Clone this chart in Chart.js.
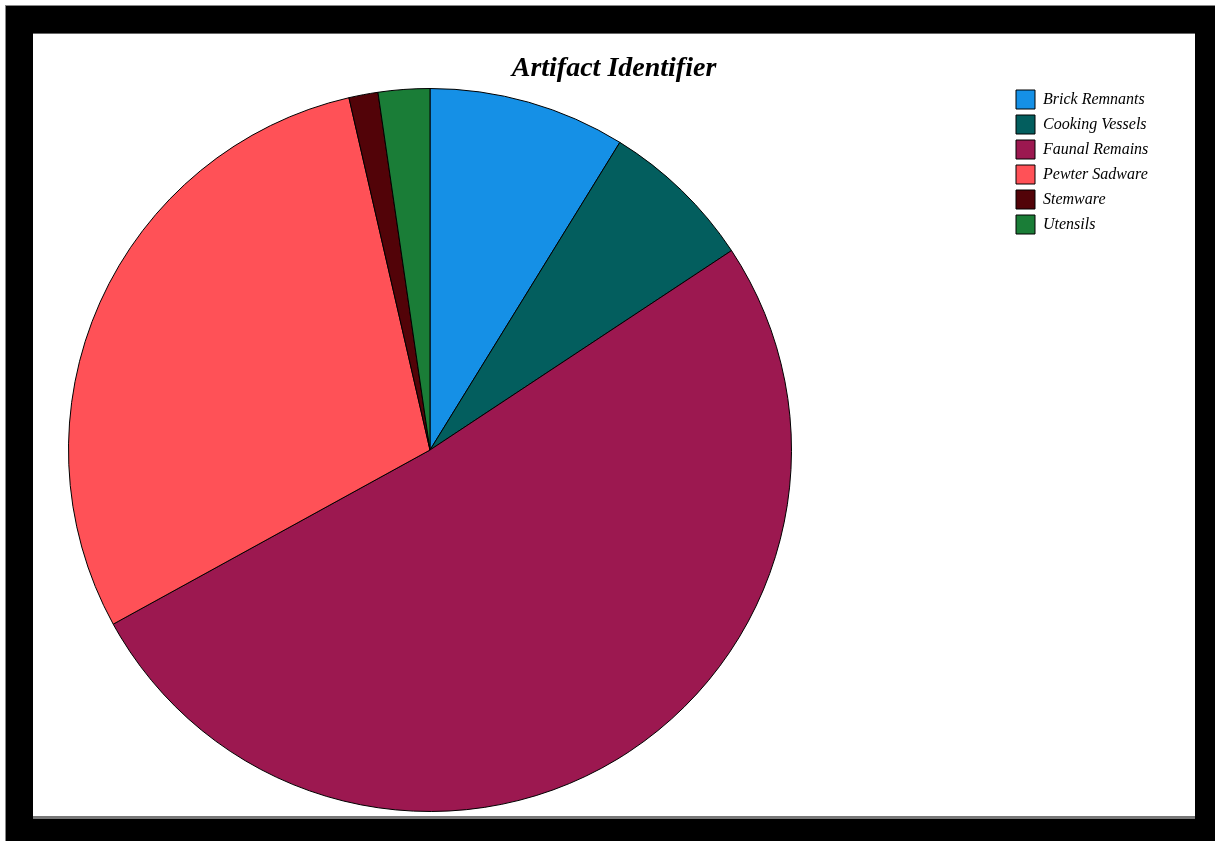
<!DOCTYPE html>
<html>
<head>
<meta charset="utf-8">
<script src="https://cdn.jsdelivr.net/npm/chart.js@4/dist/chart.umd.min.js"></script>
<style>
  html, body { margin: 0; padding: 0; background: #ffffff; width: 1215px; height: 841px; overflow: hidden; }
  #frame { position: absolute; left: 6px; top: 6px; width: 1220px; height: 850px; background: #000; box-shadow: -1px -1px 0 #888; }
  #inner { position: absolute; left: 27px; top: 27px; width: 1162px; height: 782px; background: #fff; border-top: 1px solid #666; border-bottom: 3px solid #777; }
  #inner canvas { display: block; }
</style>
</head>
<body>
<div id="frame"><div id="inner"><canvas id="c" width="1162" height="781"></canvas></div></div>
<script>
const titleText = 'Artifact Identifier';
const categories = ['Brick Remnants', 'Cooking Vessels', 'Faunal Remains', 'Pewter Sadware', 'Stemware', 'Utensils'];
const shares = [8.8, 6.9, 51.3, 29.4, 1.3, 2.3];
const sliceColors = ['#1590E6', '#035E5E', '#9C1850', '#FF5157', '#520308', '#1A7D37'];

// Keep the plot area square, inset from the left; place the legend block below the title.
const layoutTweak = {
  id: 'layoutTweak',
  afterLayout(chart) {
    const ca = chart.chartArea;
    ca.left = ca.left + 35;
    const side = ca.bottom - ca.top;
    ca.right = ca.left + side;
    ca.width = side;
    const lg = chart.legend;
    if (lg) {
      const w = lg.right - lg.left;
      lg.left = 977;
      lg.right = lg.left + w;
      lg.top = ca.top - 4;
    }
  }
};

new Chart(document.getElementById('c'), {
  type: 'pie',
  data: {
    labels: categories,
    datasets: [{
      data: shares,
      backgroundColor: sliceColors,
      borderColor: '#000000',
      borderWidth: 1
    }]
  },
  options: {
    responsive: false,
    animation: false,
    layout: { padding: { left: 0, right: 0, top: 0, bottom: 3 } },
    plugins: {
      title: {
        display: true,
        text: titleText,
        color: '#000',
        font: { family: '"Liberation Serif", serif', size: 28, style: 'italic', weight: 'bold', lineHeight: 1.2 },
        padding: { top: 18, bottom: 2.4 }
      },
      legend: {
        display: true,
        position: 'right',
        align: 'start',
        labels: {
          color: '#000',
          boxWidth: 19,
          boxHeight: 19,
          padding: 6,
          font: { family: '"Liberation Serif", serif', size: 16, style: 'italic' }
        }
      },
      tooltip: { enabled: false }
    }
  },
  plugins: [layoutTweak]
});
</script>
</body>
</html>
